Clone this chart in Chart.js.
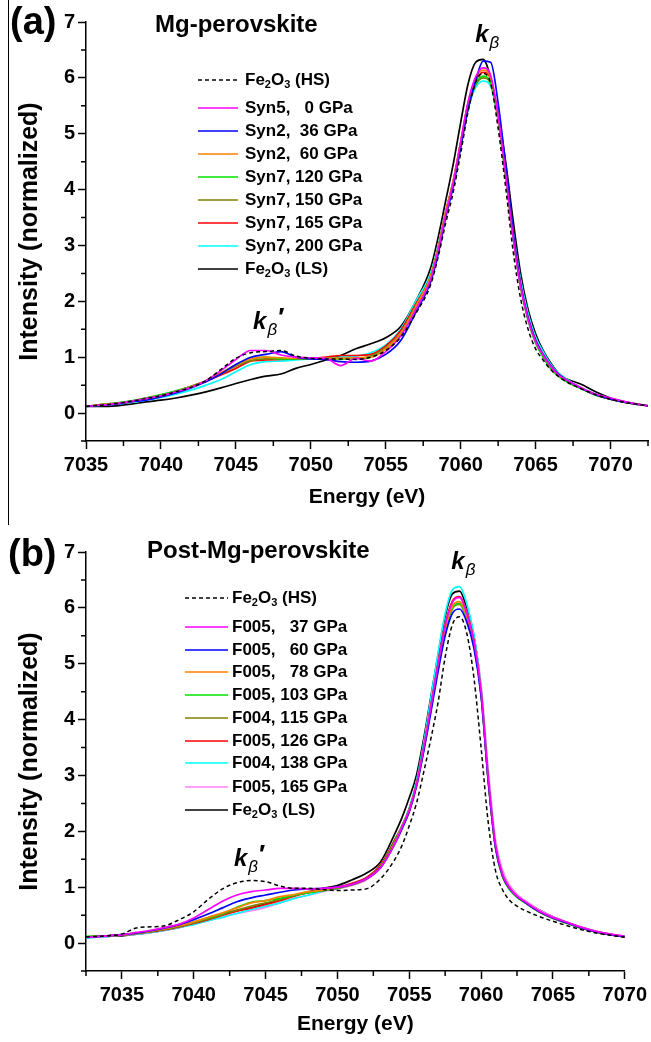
<!DOCTYPE html>
<html>
<head>
<meta charset="utf-8">
<title>Fe K-beta emission spectra</title>
<script src="https://cdn.jsdelivr.net/npm/chart.js@4/dist/chart.umd.min.js"></script>
<style>
  body { margin: 0; background: #fff; width: 651px; height: 1042px; position: relative; overflow: hidden; }
  .panel { position: absolute; left: 0; width: 651px; }
  #sep { position: absolute; left: 8px; top: 0; width: 1px; height: 525px; background: #000; }
</style>
</head>
<body>
<div id="sep"></div>
<div class="panel" style="top:0;height:530px"><canvas id="chartA"></canvas></div>
<div class="panel" style="top:530px;height:512px"><canvas id="chartB"></canvas></div>
<script>
// ---- panel (a): Mg-perovskite ----
const energyA = [7035, 7036, 7037, 7038, 7039, 7040, 7041, 7042, 7043, 7044, 7045, 7046, 7047, 7048, 7049, 7050, 7051, 7052, 7053, 7054, 7055, 7056,
  7057, 7058, 7058.5, 7059, 7059.5, 7060, 7060.5, 7061, 7061.5, 7062, 7062.5, 7063, 7063.5, 7064, 7064.5, 7065, 7065.5, 7066, 7066.5, 7067, 7068, 7069, 7070, 7071, 7072.5];
const hsA = [0.12, 0.14, 0.17, 0.21, 0.26, 0.31, 0.38, 0.46, 0.58, 0.78, 0.98, 1.08, 1.10, 1.12, 1.02, 0.98, 0.97, 0.97, 0.96, 1.00, 1.12, 1.36,
  1.78, 2.30, 2.80, 3.40, 3.95, 4.65, 5.40, 5.92, 6.08, 5.90, 5.10, 4.05, 2.90, 2.05, 1.50, 1.15, 0.95, 0.78, 0.66, 0.57, 0.44, 0.33, 0.25, 0.19, 0.13];
const syn5_0 = [0.12, 0.14, 0.17, 0.21, 0.26, 0.31, 0.38, 0.46, 0.58, 0.76, 0.96, 1.12, 1.12, 1.04, 1.00, 0.99, 0.98, 0.85, 0.98, 0.93, 1.10, 1.38,
  1.85, 2.40, 2.92, 3.55, 4.12, 4.85, 5.58, 6.02, 6.18, 6.04, 5.32, 4.28, 3.15, 2.27, 1.68, 1.28, 1.04, 0.84, 0.69, 0.60, 0.46, 0.34, 0.27, 0.20, 0.13];
const syn2_36 = [0.12, 0.14, 0.16, 0.20, 0.23, 0.29, 0.36, 0.45, 0.56, 0.70, 0.87, 1.00, 1.05, 1.10, 1.00, 0.97, 0.96, 0.92, 0.91, 0.93, 1.05, 1.30,
  1.80, 2.35, 2.85, 3.50, 4.05, 4.75, 5.45, 5.95, 6.30, 6.28, 5.55, 4.45, 3.25, 2.30, 1.70, 1.30, 1.05, 0.85, 0.70, 0.60, 0.45, 0.33, 0.25, 0.19, 0.13];
const syn2_60 = [0.12, 0.15, 0.17, 0.20, 0.25, 0.31, 0.38, 0.47, 0.58, 0.72, 0.86, 0.97, 1.00, 0.99, 0.98, 0.99, 0.98, 0.98, 0.99, 1.00, 1.15, 1.42,
  1.90, 2.45, 2.95, 3.60, 4.15, 4.85, 5.56, 5.98, 6.14, 6.00, 5.30, 4.28, 3.18, 2.28, 1.68, 1.28, 1.04, 0.84, 0.69, 0.60, 0.45, 0.33, 0.25, 0.19, 0.13];
const syn7_120 = [0.12, 0.15, 0.18, 0.22, 0.27, 0.33, 0.40, 0.48, 0.58, 0.72, 0.86, 0.97, 1.00, 0.97, 0.97, 0.98, 0.98, 0.97, 0.98, 1.00, 1.15, 1.42,
  1.90, 2.45, 2.95, 3.58, 4.12, 4.80, 5.50, 5.90, 6.03, 5.92, 5.25, 4.25, 3.15, 2.25, 1.65, 1.25, 1.00, 0.80, 0.66, 0.57, 0.44, 0.32, 0.25, 0.19, 0.13];
const syn7_150 = [0.12, 0.15, 0.18, 0.21, 0.26, 0.32, 0.39, 0.47, 0.57, 0.70, 0.84, 0.94, 0.97, 0.97, 0.97, 0.98, 0.98, 0.98, 0.98, 1.02, 1.17, 1.43,
  1.92, 2.45, 2.95, 3.57, 4.10, 4.78, 5.47, 5.87, 6.00, 5.90, 5.25, 4.25, 3.17, 2.28, 1.68, 1.28, 1.03, 0.83, 0.68, 0.59, 0.45, 0.33, 0.25, 0.19, 0.13];
const syn7_165 = [0.12, 0.15, 0.17, 0.21, 0.27, 0.32, 0.39, 0.48, 0.57, 0.68, 0.80, 0.93, 0.95, 0.96, 0.97, 0.98, 1.00, 1.03, 1.03, 1.05, 1.20, 1.48,
  1.95, 2.45, 2.95, 3.60, 4.15, 4.85, 5.55, 5.95, 6.10, 5.98, 5.30, 4.30, 3.20, 2.30, 1.70, 1.30, 1.05, 0.85, 0.70, 0.60, 0.45, 0.33, 0.25, 0.19, 0.13];
const syn7_200 = [0.12, 0.14, 0.16, 0.19, 0.23, 0.28, 0.34, 0.41, 0.50, 0.60, 0.74, 0.87, 0.92, 0.93, 0.95, 0.97, 0.99, 1.00, 1.02, 1.08, 1.22, 1.50,
  2.00, 2.50, 3.00, 3.60, 4.15, 4.82, 5.45, 5.83, 5.94, 5.85, 5.25, 4.30, 3.25, 2.38, 1.78, 1.36, 1.10, 0.88, 0.72, 0.62, 0.46, 0.34, 0.25, 0.19, 0.13];
const lsA = [0.12, 0.12, 0.13, 0.16, 0.20, 0.23, 0.27, 0.32, 0.38, 0.45, 0.53, 0.60, 0.66, 0.70, 0.80, 0.87, 0.95, 1.03, 1.15, 1.24, 1.35, 1.55,
  2.00, 2.60, 3.15, 3.80, 4.45, 5.20, 5.90, 6.28, 6.33, 6.00, 5.35, 4.50, 3.45, 2.50, 1.85, 1.42, 1.12, 0.90, 0.72, 0.62, 0.52, 0.38, 0.27, 0.20, 0.13];
const labelsA = ['Fe₂O₃ (HS)', 'Syn5,   0 GPa', 'Syn2,  36 GPa', 'Syn2,  60 GPa', 'Syn7, 120 GPa', 'Syn7, 150 GPa', 'Syn7, 165 GPa', 'Syn7, 200 GPa', 'Fe₂O₃ (LS)'];
const xTicksA = [7035, 7040, 7045, 7050, 7055, 7060, 7065, 7070];

// ---- panel (b): Post-Mg-perovskite ----
const energyB = [7032.5, 7034, 7035, 7036, 7037, 7038, 7039, 7040, 7041, 7042, 7043, 7044, 7045, 7046, 7047, 7048, 7049, 7050, 7051, 7052, 7053, 7054,
  7054.5, 7055, 7055.5, 7056, 7056.5, 7057, 7057.5, 7058, 7058.5, 7059, 7059.5, 7060, 7060.5, 7061, 7061.5, 7062, 7062.5, 7063, 7064, 7065, 7066, 7067, 7068, 7069, 7070];
const hsB = [0.11, 0.13, 0.16, 0.27, 0.29, 0.31, 0.42, 0.56, 0.78, 0.97, 1.08, 1.12, 1.10, 1.02, 0.98, 0.98, 0.96, 0.94, 0.95, 0.97, 1.15, 1.50,
  1.75, 2.10, 2.50, 3.05, 3.65, 4.30, 5.12, 5.70, 5.84, 5.55, 4.75, 3.50, 2.15, 1.30, 0.95, 0.76, 0.66, 0.59, 0.48, 0.39, 0.31, 0.24, 0.18, 0.14, 0.11];
const f005_37 = [0.10, 0.13, 0.15, 0.19, 0.23, 0.28, 0.34, 0.45, 0.60, 0.75, 0.86, 0.92, 0.95, 0.98, 0.98, 0.97, 0.98, 1.00, 1.05, 1.15, 1.35, 1.78,
  2.08, 2.38, 2.83, 3.48, 4.22, 4.98, 5.68, 6.10, 6.19, 5.90, 5.40, 4.50, 2.95, 1.76, 1.22, 0.98, 0.84, 0.75, 0.58, 0.46, 0.37, 0.28, 0.21, 0.16, 0.12];
const f005_60 = [0.10, 0.13, 0.15, 0.18, 0.22, 0.27, 0.33, 0.42, 0.52, 0.63, 0.74, 0.81, 0.86, 0.91, 0.95, 0.97, 0.98, 1.00, 1.05, 1.15, 1.35, 1.78,
  2.05, 2.35, 2.80, 3.42, 4.12, 4.85, 5.50, 5.90, 5.98, 5.75, 5.28, 4.42, 2.90, 1.72, 1.20, 0.97, 0.83, 0.74, 0.57, 0.45, 0.36, 0.27, 0.20, 0.15, 0.11];
const f005_78 = [0.11, 0.13, 0.15, 0.18, 0.21, 0.26, 0.31, 0.38, 0.46, 0.54, 0.63, 0.72, 0.76, 0.83, 0.87, 0.92, 0.95, 1.00, 1.05, 1.15, 1.36, 1.80,
  2.08, 2.38, 2.82, 3.46, 4.20, 4.94, 5.62, 6.03, 6.11, 5.85, 5.38, 4.48, 2.92, 1.73, 1.20, 0.97, 0.83, 0.74, 0.57, 0.45, 0.36, 0.27, 0.20, 0.15, 0.11];
const f005_103 = [0.12, 0.13, 0.15, 0.18, 0.21, 0.26, 0.31, 0.38, 0.45, 0.53, 0.64, 0.73, 0.76, 0.80, 0.86, 0.90, 0.95, 0.99, 1.05, 1.15, 1.37, 1.82,
  2.10, 2.40, 2.84, 3.47, 4.20, 4.93, 5.60, 6.00, 6.08, 5.82, 5.35, 4.45, 2.90, 1.70, 1.18, 0.95, 0.82, 0.73, 0.56, 0.44, 0.35, 0.26, 0.20, 0.15, 0.11];
const f004_115 = [0.11, 0.13, 0.15, 0.18, 0.21, 0.25, 0.30, 0.36, 0.43, 0.51, 0.59, 0.66, 0.72, 0.78, 0.85, 0.90, 0.94, 0.98, 1.04, 1.14, 1.36, 1.80,
  2.07, 2.37, 2.82, 3.45, 4.18, 4.90, 5.58, 5.98, 6.06, 5.80, 5.33, 4.45, 2.92, 1.73, 1.20, 0.97, 0.83, 0.74, 0.57, 0.45, 0.36, 0.27, 0.20, 0.15, 0.11];
const f005_126 = [0.11, 0.13, 0.14, 0.17, 0.20, 0.24, 0.29, 0.35, 0.42, 0.50, 0.57, 0.63, 0.69, 0.76, 0.84, 0.90, 0.95, 1.00, 1.07, 1.17, 1.40, 1.85,
  2.10, 2.40, 2.85, 3.50, 4.25, 5.00, 5.70, 6.12, 6.20, 5.92, 5.42, 4.50, 2.90, 1.72, 1.20, 0.97, 0.83, 0.74, 0.57, 0.45, 0.36, 0.27, 0.20, 0.15, 0.11];
const f004_138 = [0.09, 0.12, 0.14, 0.16, 0.19, 0.23, 0.28, 0.33, 0.40, 0.46, 0.53, 0.60, 0.66, 0.72, 0.80, 0.86, 0.93, 0.98, 1.05, 1.16, 1.40, 1.86,
  2.10, 2.42, 2.90, 3.58, 4.38, 5.18, 5.90, 6.32, 6.38, 6.08, 5.52, 4.55, 2.95, 1.74, 1.21, 0.97, 0.83, 0.74, 0.57, 0.45, 0.36, 0.27, 0.20, 0.15, 0.12];
const f005_165 = [0.09, 0.12, 0.14, 0.16, 0.19, 0.23, 0.28, 0.34, 0.40, 0.47, 0.53, 0.58, 0.64, 0.72, 0.80, 0.86, 0.92, 0.97, 1.03, 1.13, 1.35, 1.78,
  2.05, 2.35, 2.80, 3.45, 4.20, 4.97, 5.67, 6.10, 6.18, 5.93, 5.48, 4.62, 3.10, 1.85, 1.30, 1.03, 0.87, 0.77, 0.60, 0.47, 0.37, 0.28, 0.21, 0.16, 0.13];
const lsB = [0.11, 0.12, 0.13, 0.16, 0.19, 0.23, 0.28, 0.35, 0.45, 0.52, 0.58, 0.63, 0.70, 0.78, 0.86, 0.92, 0.98, 1.03, 1.13, 1.25, 1.45, 1.96,
  2.25, 2.60, 3.00, 3.65, 4.40, 5.15, 5.85, 6.25, 6.30, 6.00, 5.50, 4.55, 3.00, 1.78, 1.25, 1.00, 0.86, 0.76, 0.60, 0.47, 0.37, 0.28, 0.21, 0.16, 0.12];
const labelsB = ['Fe₂O₃ (HS)', 'F005,   37 GPa', 'F005,   60 GPa', 'F005,   78 GPa', 'F005, 103 GPa', 'F004, 115 GPa', 'F005, 126 GPa', 'F004, 138 GPa', 'F005, 165 GPa', 'Fe₂O₃ (LS)'];
const xTicksB = [7035, 7040, 7045, 7050, 7055, 7060, 7065, 7070];

const yTicks = [0, 1, 2, 3, 4, 5, 6, 7];

const FONT = "'Liberation Sans', Arial, Helvetica, sans-serif";

function makeSet(label, energy, values, color, dashed) {
  return {
    label: label,
    data: energy.map((e, i) => ({ x: e, y: values[i] })),
    borderColor: color,
    borderWidth: dashed ? 1.5 : 1.7,
    borderDash: dashed ? [4, 3] : [],
    pointRadius: 0,
    fill: false,
    cubicInterpolationMode: 'monotone'
  };
}

function subText(ctx, text, x, y, size) {
  // unicode subscript digits drawn as small lowered digits
  const subs = '₀₁₂₃₄₅₆₇₈₉';
  let cx = x;
  for (const ch of text) {
    const k = subs.indexOf(ch);
    if (k >= 0) {
      ctx.font = 'bold ' + Math.round(size * 0.62) + 'px ' + FONT;
      ctx.fillText(String(k), cx, y + size * 0.32);
      cx += ctx.measureText(String(k)).width;
    } else {
      ctx.font = 'bold ' + size + 'px ' + FONT;
      ctx.fillText(ch, cx, y);
      cx += ctx.measureText(ch).width;
    }
  }
}

function kbeta(ctx, x, y, prime) {
  ctx.fillStyle = '#000';
  ctx.textBaseline = 'alphabetic';
  ctx.textAlign = 'left';
  ctx.font = 'italic bold 24px ' + FONT;
  ctx.fillText('k', x, y);
  const w = ctx.measureText('k').width;
  ctx.font = 'italic 17px ' + FONT;
  ctx.fillText('β', x + w + 1, y + 6);
  if (prime) {
    const wb = ctx.measureText('β').width;
    ctx.font = 'bold 26px ' + FONT;
    ctx.fillText('\u2032', x + w + wb + 2, y - 3);
  }
}

const minorTicks = {
  id: 'minorTicks',
  afterDraw(chart) {
    const ctx = chart.ctx, xs = chart.scales.x, ys = chart.scales.y;
    ctx.save();
    ctx.strokeStyle = '#000';
    ctx.lineWidth = 1.5;
    ctx.beginPath();
    for (let v = Math.ceil(xs.min / 2.5) * 2.5; v <= xs.max + 1e-6; v += 2.5) {
      if (Math.abs(v % 5) < 1e-6) continue;
      const px = xs.getPixelForValue(v);
      ctx.moveTo(px, ys.bottom);
      ctx.lineTo(px, ys.bottom + 5);
    }
    for (let v = ys.min; v <= ys.max + 1e-6; v += 0.5) {
      if (Math.abs(v % 1) < 1e-6) continue;
      const py = ys.getPixelForValue(v);
      ctx.moveTo(xs.left, py);
      ctx.lineTo(xs.left - 5, py);
    }
    ctx.stroke();
    ctx.restore();
  }
};

const decor = {
  id: 'decor',
  afterDraw(chart, args, opts) {
    const ctx = chart.ctx, xs = chart.scales.x, ys = chart.scales.y;
    ctx.save();
    ctx.fillStyle = '#000';
    ctx.textAlign = 'left';
    ctx.textBaseline = 'alphabetic';
    ctx.font = 'bold 38px ' + FONT;
    ctx.fillText(opts.letter, opts.letterX, opts.letterY);
    ctx.font = 'bold 24px ' + FONT;
    ctx.fillText(opts.title, opts.titleX, opts.titleY);
    // legend
    ctx.textBaseline = 'middle';
    chart.data.datasets.forEach((ds, i) => {
      const y = opts.rows[i];
      ctx.strokeStyle = ds.borderColor;
      ctx.lineWidth = ds.borderWidth;
      ctx.setLineDash(ds.borderDash);
      ctx.beginPath();
      ctx.moveTo(opts.lineX0, y);
      ctx.lineTo(opts.lineX1, y);
      ctx.stroke();
      ctx.setLineDash([]);
      ctx.fillStyle = '#000';
      subText(ctx, ds.label, opts.textX, y, 17);
    });
    // peak labels
    kbeta(ctx, xs.getPixelForValue(opts.kb[0]), ys.getPixelForValue(opts.kb[1]), false);
    kbeta(ctx, xs.getPixelForValue(opts.kbp[0]), ys.getPixelForValue(opts.kbp[1]), true);
    ctx.restore();
  }
};

function axisCommon() {
  return {
    grid: { drawOnChartArea: false, drawTicks: true, tickLength: 8, tickWidth: 1.5, tickColor: '#000' },
    border: { display: true, color: '#000', width: 1.5 }
  };
}

function makeOptions(xMin, xMax, xTicks, rightPad, xHeight, titleBottom, decorOpts) {
  return {
    responsive: true,
    maintainAspectRatio: false,
    animation: false,
    events: [],
    layout: { padding: { top: 22, right: rightPad, left: 0, bottom: 0 } },
    plugins: { legend: { display: false }, tooltip: { enabled: false }, decor: decorOpts },
    scales: {
      x: Object.assign(axisCommon(), {
        type: 'linear', min: xMin, max: xMax,
        afterBuildTicks: s => { s.ticks = xTicks.map(v => ({ value: v })); },
        afterFit: s => { s.height = xHeight; },
        ticks: { color: '#000', padding: 4, maxRotation: 0, autoSkip: false,
          font: { family: FONT, size: 20, weight: 'bold' }, callback: v => String(v) },
        title: { display: true, text: 'Energy (eV)', color: '#000',
          font: { family: FONT, size: 21, weight: 'bold' }, padding: { top: 0, bottom: titleBottom } }
      }),
      y: Object.assign(axisCommon(), {
        type: 'linear', min: -0.5, max: 7,
        afterBuildTicks: s => { s.ticks = yTicks.map(v => ({ value: v })); },
        afterFit: s => { s.width = 86; },
        ticks: { color: '#000', padding: 3,
          font: { family: FONT, size: 20, weight: 'bold' } },
        title: { display: true, text: 'Intensity (normalized)', color: '#000',
          font: { family: FONT, size: 25, weight: 'bold' }, padding: { top: 15, bottom: 0 } }
      })
    }
  };
}

new Chart(document.getElementById('chartA'), {
  type: 'line',
  data: {
    datasets: [
      makeSet(labelsA[0], energyA, hsA, '#000000', true),
      makeSet(labelsA[1], energyA, syn5_0, '#ff00ff'),
      makeSet(labelsA[2], energyA, syn2_36, '#0000ff'),
      makeSet(labelsA[3], energyA, syn2_60, '#ff8000'),
      makeSet(labelsA[4], energyA, syn7_120, '#00e000'),
      makeSet(labelsA[5], energyA, syn7_150, '#808000'),
      makeSet(labelsA[6], energyA, syn7_165, '#ff0000'),
      makeSet(labelsA[7], energyA, syn7_200, '#00ffff'),
      makeSet(labelsA[8], energyA, lsA, '#000000')
    ]
  },
  options: makeOptions(7035, 7072.5, xTicksA, 3, 89, 20, {
    letter: '(a)', letterX: 10, letterY: 34,
    title: 'Mg-perovskite', titleX: 155, titleY: 32,
    rows: [80, 108, 131, 154, 177, 200, 223, 246, 269],
    lineX0: 198, lineX1: 238, textX: 245,
    kb: [7060.97, 6.65], kbp: [7046.15, 1.5]
  }),
  plugins: [minorTicks, decor]
});

new Chart(document.getElementById('chartB'), {
  type: 'line',
  data: {
    datasets: [
      makeSet(labelsB[0], energyB, hsB, '#000000', true),
      makeSet(labelsB[1], energyB, f005_37, '#ff00ff'),
      makeSet(labelsB[2], energyB, f005_60, '#0000ff'),
      makeSet(labelsB[3], energyB, f005_78, '#ff8000'),
      makeSet(labelsB[4], energyB, f005_103, '#00e000'),
      makeSet(labelsB[5], energyB, f004_115, '#808000'),
      makeSet(labelsB[6], energyB, f005_126, '#ff0000'),
      makeSet(labelsB[7], energyB, f004_138, '#00ffff'),
      makeSet(labelsB[8], energyB, f005_165, '#ff80ff'),
      makeSet(labelsB[9], energyB, lsB, '#000000')
    ]
  },
  options: makeOptions(7032.5, 7070, xTicksB, 20, 71, 5, {
    letter: '(b)', letterX: 8, letterY: 36,
    title: 'Post-Mg-perovskite', titleX: 147, titleY: 28,
    rows: [68, 97, 120, 142, 165, 188, 211, 233, 257, 280],
    lineX0: 185, lineX1: 228, textX: 232,
    kb: [7057.93, 6.7], kbp: [7042.8, 1.38]
  }),
  plugins: [minorTicks, decor]
});
</script>
</body>
</html>
